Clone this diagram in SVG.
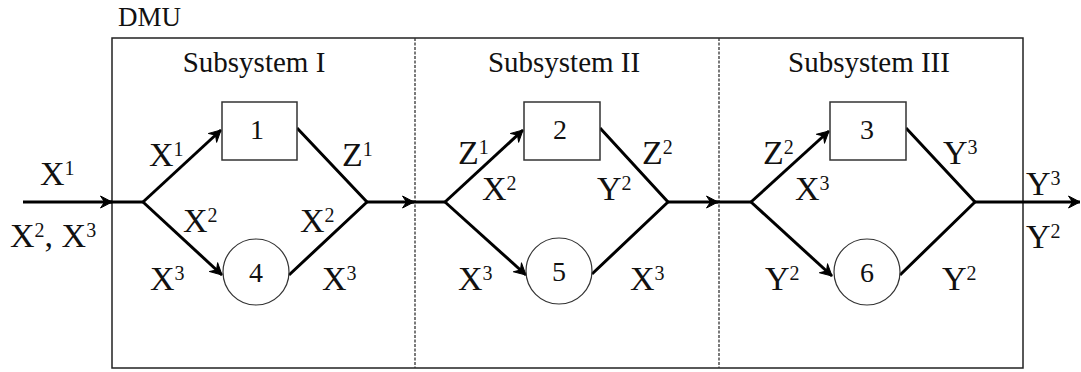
<svg xmlns="http://www.w3.org/2000/svg" width="1081" height="372" viewBox="0 0 1081 372">
  <style>
    text { font-family: "Liberation Serif", "Times New Roman", serif; fill: #111; }
    .lbl { font-size: 34px; }
    .sup { font-size: 20px; }
    .title { font-size: 29px; text-anchor: middle; }
    .num { font-size: 28px; text-anchor: middle; }
    .frame { fill: none; stroke: #222; stroke-width: 1.5; }
    .divider { fill: none; stroke: #333; stroke-width: 1.3; stroke-dasharray: 3 1.5; }
    .node { fill: #fff; stroke: #333; stroke-width: 1.5; }
    .flow { fill: none; stroke: #000; stroke-width: 3; stroke-linecap: butt; stroke-linejoin: round; }
    .arrow { marker-end: url(#head); }
  </style>
  <defs>
    <marker id="head" viewBox="-13 -7 14 14" refX="0" refY="0" markerWidth="14" markerHeight="14" markerUnits="userSpaceOnUse" orient="auto">
      <path d="M 0 0 L -11.5 -6 L -7.5 0 L -11.5 6 Z" fill="#000" stroke="#000" stroke-width="1" stroke-linejoin="round"/>
    </marker>
  </defs>

  <rect width="1081" height="372" fill="#fff"/>

  <!-- DMU frame split into three subsystems -->
  <g id="dmu">
    <text x="118" y="26" style="font-size:27px">DMU</text>
    <rect class="frame" x="112" y="38" width="911" height="330"/>
    <line class="divider" x1="415" y1="38" x2="415" y2="368"/>
    <line class="divider" x1="719" y1="38" x2="719" y2="368"/>
  </g>
  <g id="subsystem-1-title"><text class="title" x="254" y="72">Subsystem I</text></g>
  <g id="subsystem-2-title"><text class="title" x="564" y="72">Subsystem II</text></g>
  <g id="subsystem-3-title"><text class="title" x="869" y="72">Subsystem III</text></g>

  <!-- connectors -->
  <g id="connectors">
    <line class="flow arrow" x1="23" y1="202" x2="112" y2="202"/>
    <line class="flow" x1="108" y1="202" x2="143" y2="202"/>
    <line class="flow arrow" x1="143" y1="202" x2="221" y2="130"/>
    <line class="flow arrow" x1="143" y1="202" x2="222" y2="275"/>
    <polyline class="flow" points="297,128 367,202 289,275"/>
    <line class="flow arrow" x1="367" y1="202" x2="414" y2="202"/>
    <line class="flow" x1="410" y1="202" x2="445" y2="202"/>

    <line class="flow arrow" x1="445" y1="202" x2="523" y2="130"/>
    <line class="flow arrow" x1="445" y1="202" x2="526" y2="275"/>
    <polyline class="flow" points="600,128 668,202 592,274"/>
    <line class="flow arrow" x1="668" y1="202" x2="718" y2="202"/>
    <line class="flow" x1="714" y1="202" x2="751" y2="202"/>

    <line class="flow arrow" x1="751" y1="202" x2="829" y2="131"/>
    <line class="flow arrow" x1="751" y1="202" x2="832" y2="276"/>
    <polyline class="flow" points="906,128 975,202 900,275"/>
    <line class="flow arrow" x1="975" y1="202" x2="1080" y2="202"/>
  </g>

  <!-- process nodes -->
  <g id="node-1">
    <rect class="node" x="222" y="102" width="75" height="58"/>
    <text class="num" x="257" y="139">1</text>
  </g>
  <g id="node-2">
    <rect class="node" x="524" y="102" width="76" height="58"/>
    <text class="num" x="560" y="139">2</text>
  </g>
  <g id="node-3">
    <rect class="node" x="830" y="102" width="76" height="58"/>
    <text class="num" x="867" y="139">3</text>
  </g>
  <g id="node-4">
    <circle class="node" cx="256" cy="272" r="33" style="stroke-width:1.2"/>
    <text class="num" x="256" y="282">4</text>
  </g>
  <g id="node-5">
    <circle class="node" cx="559" cy="271" r="33" style="stroke-width:1.2"/>
    <text class="num" x="559" y="281">5</text>
  </g>
  <g id="node-6">
    <circle class="node" cx="867" cy="272" r="33" style="stroke-width:1.2"/>
    <text class="num" x="867" y="282">6</text>
  </g>

  <!-- flow labels -->
  <g id="labels">
    <text class="lbl" x="40" y="185">X<tspan class="sup" dy="-10">1</tspan></text>
    <text class="lbl" x="10" y="247">X<tspan class="sup" dy="-10">2</tspan><tspan dy="10">, X</tspan><tspan class="sup" dy="-10">3</tspan></text>

    <text class="lbl" x="149" y="166">X<tspan class="sup" dy="-10">1</tspan></text>
    <text class="lbl" x="183" y="232">X<tspan class="sup" dy="-10">2</tspan></text>
    <text class="lbl" x="150" y="290">X<tspan class="sup" dy="-10">3</tspan></text>
    <text class="lbl" x="342" y="166">Z<tspan class="sup" dy="-10">1</tspan></text>
    <text class="lbl" x="300" y="232">X<tspan class="sup" dy="-10">2</tspan></text>
    <text class="lbl" x="322" y="290">X<tspan class="sup" dy="-10">3</tspan></text>

    <text class="lbl" x="458" y="164">Z<tspan class="sup" dy="-10">1</tspan></text>
    <text class="lbl" x="482" y="200">X<tspan class="sup" dy="-10">2</tspan></text>
    <text class="lbl" x="458" y="290">X<tspan class="sup" dy="-10">3</tspan></text>
    <text class="lbl" x="642" y="164">Z<tspan class="sup" dy="-10">2</tspan></text>
    <text class="lbl" x="597" y="200">Y<tspan class="sup" dy="-10">2</tspan></text>
    <text class="lbl" x="630" y="290">X<tspan class="sup" dy="-10">3</tspan></text>

    <text class="lbl" x="763" y="164">Z<tspan class="sup" dy="-10">2</tspan></text>
    <text class="lbl" x="795" y="200">X<tspan class="sup" dy="-10">3</tspan></text>
    <text class="lbl" x="765" y="290">Y<tspan class="sup" dy="-10">2</tspan></text>
    <text class="lbl" x="943" y="164">Y<tspan class="sup" dy="-10">3</tspan></text>
    <text class="lbl" x="942" y="290">Y<tspan class="sup" dy="-10">2</tspan></text>

    <text class="lbl" x="1026" y="195">Y<tspan class="sup" dy="-10">3</tspan></text>
    <text class="lbl" x="1026" y="248">Y<tspan class="sup" dy="-10">2</tspan></text>
  </g>
</svg>
